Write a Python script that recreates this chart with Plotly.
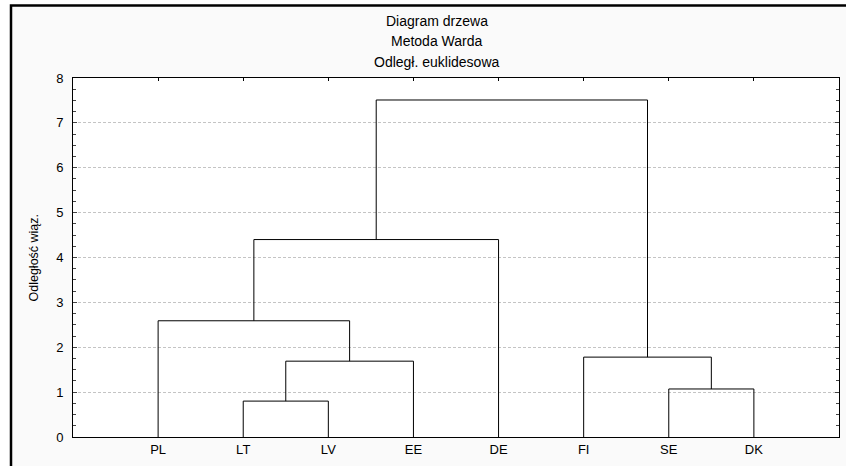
import plotly.graph_objects as go

# ---- data ----
leaves = ["PL", "LT", "LV", "EE", "DE", "FI", "SE", "DK"]
# linkage: each merge joins two nodes (leaf names or earlier merge ids "c0", "c1", ...)
merge_left = ["LT", "c0", "PL", "c2", "SE", "FI", "c3"]
merge_right = ["LV", "EE", "c1", "DE", "DK", "c4", "c5"]
merge_height = [0.80, 1.69, 2.59, 4.40, 1.07, 1.78, 7.51]
y_ticks = [0, 1, 2, 3, 4, 5, 6, 7, 8]
title_lines = ["Diagram drzewa", "Metoda Warda", "Odległ. euklidesowa"]
y_title = "Odległość wiąz."

# ---- build dendrogram segments from linkage ----
pos = {name: i + 1 for i, name in enumerate(leaves)}
hgt = {name: 0.0 for name in leaves}
xs, ys = [], []
for k, (a, b, h) in enumerate(zip(merge_left, merge_right, merge_height)):
    xa, xb = pos[a], pos[b]
    xs += [xa, xa, xb, xb, None]
    ys += [hgt[a], h, h, hgt[b], None]
    cid = f"c{k}"
    pos[cid] = (xa + xb) / 2
    hgt[cid] = h

W, H = 846, 466
L, R, T, B = 73, 7, 78, 29
plot_w = W - L - R
plot_h = H - T - B

def px_to_paper_x(px):
    return (px - L) / plot_w

def px_to_paper_y(py):
    return (H - B - py) / plot_h

fig = go.Figure()
fig.add_trace(go.Scatter(x=xs, y=ys, mode="lines",
                         line=dict(color="black", width=1),
                         hoverinfo="skip", showlegend=False))
# invisible trace for top axis ticks
fig.add_trace(go.Scatter(x=[1, 8], y=[0, 0], xaxis="x2", mode="markers",
                         marker=dict(opacity=0), hoverinfo="skip", showlegend=False))

font_family = "Liberation Sans, Arial, sans-serif"

fig.update_layout(
    width=W, height=H,
    margin=dict(l=L, r=R, t=T, b=B),
    paper_bgcolor="#fafafa",
    plot_bgcolor="white",
    font=dict(family=font_family, color="black"),
    xaxis=dict(range=[0, 9], tickvals=list(range(1, len(leaves) + 1)), ticktext=leaves,
               showgrid=False, zeroline=False, showline=True, linecolor="black", linewidth=1,
               mirror=True, ticks="", tickfont=dict(size=13, color="black"),
               ticklabelstandoff=0),
    xaxis2=dict(range=[0, 9], overlaying="x", side="top", tickvals=list(range(1, len(leaves) + 1)),
                showticklabels=False, ticks="inside", ticklen=3, tickcolor="black",
                showgrid=False, zeroline=False, showline=False),
    yaxis=dict(range=[0, 8], tickvals=y_ticks, showgrid=True, gridcolor="#c4c4c4",
               griddash="3px,2px", gridwidth=1, zeroline=False, showline=True,
               linecolor="black", linewidth=1, mirror="ticks", ticks="inside", ticklen=4,
               tickcolor="#444", tickfont=dict(size=13, color="black"),
               ticklabelstandoff=6,
               minor=dict(dtick=0.25, ticks="inside", ticklen=3, tickcolor="#444", showgrid=False)),
    shapes=[
        # white strips outside the outer frame
        dict(type="rect", xref="paper", yref="paper", layer="below",
             x0=px_to_paper_x(-20), x1=px_to_paper_x(11),
             y0=px_to_paper_y(H + 20), y1=px_to_paper_y(-20),
             line=dict(width=0), fillcolor="white"),
        dict(type="rect", xref="paper", yref="paper", layer="below",
             x0=px_to_paper_x(-20), x1=px_to_paper_x(W + 20),
             y0=px_to_paper_y(5.5), y1=px_to_paper_y(-20),
             line=dict(width=0), fillcolor="white"),
        # outer frame
        dict(type="rect", xref="paper", yref="paper", layer="above",
             x0=px_to_paper_x(11), x1=px_to_paper_x(W + 20),
             y0=px_to_paper_y(H + 20), y1=px_to_paper_y(5.5),
             line=dict(color="black", width=2.5)),
    ],
)

annotations = []
for i, (line, py) in enumerate(zip(title_lines, [21, 41.5, 62])):
    annotations.append(dict(text=line, xref="paper", yref="paper",
                            x=px_to_paper_x(437), y=px_to_paper_y(py),
                            xanchor="center", yanchor="middle", showarrow=False,
                            font=dict(size=14, color="black", family=font_family)))
annotations.append(dict(text=y_title, xref="paper", yref="paper",
                        x=px_to_paper_x(33), y=0.5, textangle=-90,
                        xanchor="center", yanchor="middle", showarrow=False,
                        font=dict(size=12.5, color="black", family=font_family)))
fig.update_layout(annotations=annotations)

fig.write_html("out.html", config={"displayModeBar": False},
               post_script="document.body.style.margin='0';")
